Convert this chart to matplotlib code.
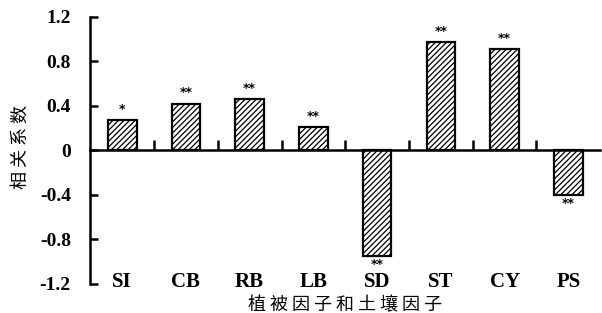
import numpy as np
import matplotlib.pyplot as plt
import matplotlib as mpl

categories = ['SI', 'CB', 'RB', 'LB', 'SD', 'ST', 'CY', 'PS']
values = [0.27, 0.42, 0.46, 0.21, -0.95, 0.97, 0.91, -0.40]
marks = ['*', '**', '**', '**', '**', '**', '**', '**']
yticks = [-1.2, -0.8, -0.4, 0, 0.4, 0.8, 1.2]
ytick_labels = ['-1.2', '-0.8', '-0.4', '0', '0.4', '0.8', '1.2']

mpl.rcParams['hatch.linewidth'] = 0.9

fig = plt.figure(figsize=(6.02, 3.13), dpi=100)
ax = fig.add_axes([0.15, 0.093, 0.847, 0.853])

ind = np.arange(len(categories))
ax.bar(ind, values, 0.45, color='white', edgecolor='black', linewidth=1.6,
       hatch='//////', zorder=2)

ax.set_xlim(-0.5, len(categories) - 0.5)
ax.set_ylim(-1.2, 1.2)

ax.spines['top'].set_visible(False)
ax.spines['right'].set_visible(False)
ax.spines['left'].set_linewidth(1.8)
ax.spines['bottom'].set_position(('data', 0))
ax.spines['bottom'].set_linewidth(1.8)
ax.spines['bottom'].set_zorder(3)

ax.set_xticks(ind[:-1] + 0.5)
ax.set_xticklabels([])
ax.tick_params(axis='x', direction='in', length=7, width=1.8)

ax.set_yticks(yticks)
ax.set_yticklabels(ytick_labels, fontfamily='Liberation Serif', fontweight='bold', fontsize=14)
ax.tick_params(axis='y', direction='in', length=6, width=1.8, pad=14)

for i, (v, m) in enumerate(zip(values, marks)):
    if v >= 0:
        ax.text(i, v + 0.04, m, ha='center', va='bottom', fontsize=9,
                fontfamily='DejaVu Sans', fontweight='bold')
    else:
        ax.text(i, v - 0.015, m, ha='center', va='top', fontsize=9,
                fontfamily='DejaVu Sans', fontweight='bold')

for i, c in enumerate(categories):
    ax.text(i, -1.18, c, ha='center', va='center', fontsize=15,
            fontfamily='Liberation Serif', fontweight='bold')

fig.text(0.034, 0.53, '相 关 系 数', ha='center', va='center', rotation=90,
         fontfamily='Noto Sans CJK SC', fontsize=13)
fig.text(0.573, 0.025, '植 被 因 子 和 土 壤 因 子', ha='center', va='center',
         fontfamily='Noto Sans CJK SC', fontsize=13)

fig.savefig('out.png', dpi=100)
